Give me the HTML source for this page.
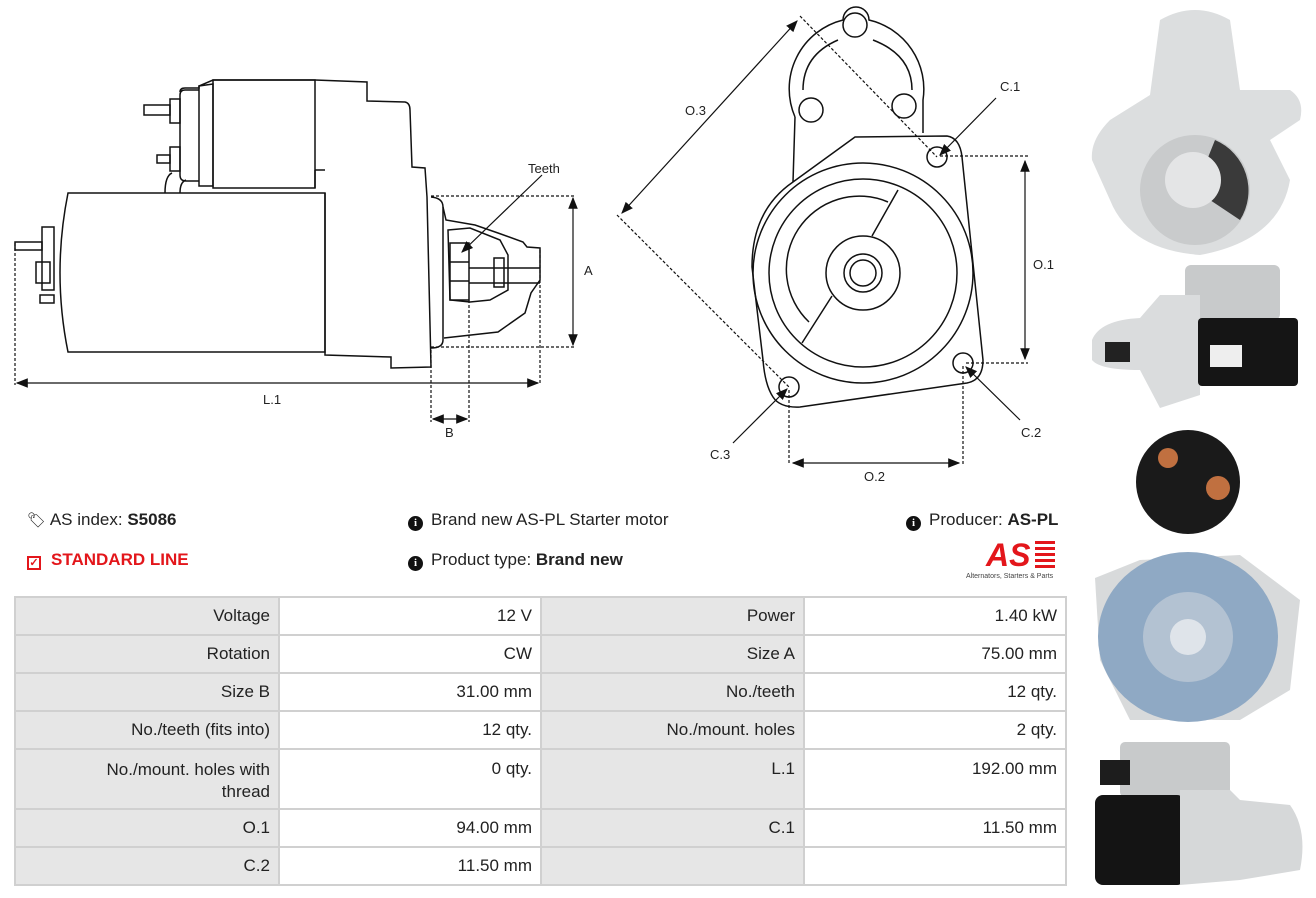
<!DOCTYPE html>
<html><head><meta charset="utf-8"><style>
*{margin:0;padding:0;box-sizing:border-box}
body{width:1316px;height:898px;background:#fff;position:relative;overflow:hidden;font-family:"Liberation Sans",sans-serif;color:#222}
.t{position:absolute;font-size:17px;white-space:nowrap}
.ic{display:inline-block;width:15px;height:15px;border-radius:50%;background:#111;color:#fff;font-size:11px;font-weight:bold;text-align:center;line-height:15px;vertical-align:-1px;margin-right:8px;font-family:"Liberation Serif",serif}
table{position:absolute;left:14px;top:596px;border-collapse:collapse;width:1053px}
td{border:2px solid #d0d0d0;font-size:17px;text-align:right;padding:0 8px;height:38px;color:#222}
td.l{background:#e6e6e6}
</style></head><body>
<svg width="1316" height="898" style="position:absolute;left:0;top:0" fill="none" stroke="#111" stroke-width="1.5">
<defs><marker id="a" markerWidth="10" markerHeight="8" refX="9" refY="4" orient="auto-start-reverse"><path d="M0,0 L10,4 L0,8 Z" fill="#111" stroke="none"/></marker></defs>
<!-- side view -->
<path d="M180,92 Q180,88 185,88 L199,88 L199,86 L213,80 L315,80 L367,82 L367,101 L405,102 Q410,103 410,110 L412,167 L425,168 L427,197 L431,367 L391,368 L391,357 L325,355 L325,193"/>
<rect x="213" y="80" width="102" height="108"/>
<path d="M199,86 L213,84 L213,186 L199,186 Z"/>
<path d="M199,90 L185,90 Q180,90 180,95 L180,175 Q180,181 186,181 L199,181"/>
<path d="M315,170 L325,170 M315,188 L315,170"/>
<rect x="144" y="105" width="26" height="10"/><rect x="170" y="99" width="10" height="24"/>
<rect x="157" y="155" width="13" height="8"/><rect x="170" y="147" width="10" height="24"/>
<path d="M165,193 Q165,176 172,173 M180,193 Q180,182 186,180"/>
<path d="M68,193 L325,193 L325,352 L68,352 Q52,273 68,193 Z"/>
<rect x="42" y="227" width="12" height="63"/><rect x="36" y="262" width="14" height="21"/>
<rect x="15" y="242" width="27" height="8"/><rect x="40" y="295" width="14" height="8"/>
<path d="M431,197 Q443,198 443,207 L443,340 Q443,348 431,348"/>
<path d="M443,207 L446,220 L475,225 L498,233 L523,242 L527,247 L540,248 L540,280 L531,293 L525,313 L498,332 L444,338"/>
<path d="M448,230 L470,228 L500,240 L508,255 L508,290 L490,300 L470,302 L450,300 Z"/>
<rect x="450" y="243" width="19" height="57"/><path d="M450,262 L469,262 M450,281 L469,281"/>
<path d="M469,268 L540,268 M469,283 L540,283"/>
<rect x="494" y="258" width="10" height="29"/>
<g stroke-dasharray="3,2" stroke-width="1.2">
<path d="M431,196 L576,196 M431,347 L576,347 M15,243 L15,385 M540,250 L540,385 M431,350 L431,422 M469,300 L469,422"/></g>
<g stroke-width="1.2">
<path d="M573,198 L573,345" marker-start="url(#a)" marker-end="url(#a)"/>
<path d="M17,383 L538,383" marker-start="url(#a)" marker-end="url(#a)"/>
<path d="M433,419 L467,419" marker-start="url(#a)" marker-end="url(#a)"/>
<path d="M542,175 L462,252" marker-end="url(#a)"/>
</g>
<!-- front view -->
<path d="M795,117 L793,182 M923,133 L923,100 A71,71 0 0 0 869,20 A12,12 0 0 0 843,20 A71,71 0 0 0 795,117"/>
<path d="M803,90 Q803,55 838,40 M912,90 Q912,55 873,40"/>
<circle cx="855" cy="25" r="12"/><circle cx="811" cy="110" r="12"/><circle cx="904" cy="106" r="12"/>
<path d="M855,137 L947,136 Q960,138 962,157 L983,360 Q983,380 967,383 L800,407 Q780,408 773,397 Q765,385 763,360 L752,267 Q752,210 793,182 Z"/>
<circle cx="863" cy="273" r="110"/><circle cx="863" cy="273" r="94"/>
<path d="M888,202 A73,73 0 0 0 809,322"/><path d="M898,190 L872,236 M832,296 L802,343"/>
<circle cx="863" cy="273" r="37"/><circle cx="863" cy="273" r="19"/><circle cx="863" cy="273" r="13"/>
<circle cx="937" cy="157" r="10"/><circle cx="963" cy="363" r="10"/><circle cx="789" cy="387" r="10"/>
<g stroke-dasharray="3,2" stroke-width="1.2">
<path d="M800,16 L937,157 M617,215 L789,387 M940,156 L1028,156 M966,363 L1028,363 M789,390 L789,465 M963,366 L963,465"/></g>
<g stroke-width="1.2">
<path d="M1025,161 L1025,359" marker-start="url(#a)" marker-end="url(#a)"/>
<path d="M793,463 L959,463" marker-start="url(#a)" marker-end="url(#a)"/>
<path d="M797,21 L622,213" marker-start="url(#a)" marker-end="url(#a)"/>
<path d="M996,98 L940,155" marker-end="url(#a)"/>
<path d="M1020,420 L966,367" marker-end="url(#a)"/>
<path d="M733,443 L787,389" marker-end="url(#a)"/>
</g>
<g fill="#222" stroke="none" font-family="Liberation Sans" font-size="13">
<text x="528" y="173">Teeth</text><text x="584" y="275">A</text><text x="263" y="404">L.1</text><text x="445" y="437">B</text>
<text x="685" y="115">O.3</text><text x="1000" y="91">C.1</text><text x="1033" y="269">O.1</text><text x="1021" y="437">C.2</text><text x="710" y="459">C.3</text><text x="864" y="481">O.2</text>
</g>
<!-- photos -->
<g stroke="none">
<path d="M1160,20 Q1195,0 1230,20 L1240,90 L1290,90 Q1305,100 1300,120 L1270,140 L1290,180 Q1280,240 1200,255 Q1130,250 1110,200 L1092,160 Q1090,140 1110,120 L1150,95 Z" fill="#dcdedf"/>
<circle cx="1195" cy="190" r="55" fill="#c9cbcc"/><path d="M1215,140 A55,55 0 0 1 1240,220 L1195,190 Z" fill="#3a3a3a"/>
<circle cx="1193" cy="180" r="28" fill="#e4e5e6"/>
<rect x="1185" y="265" width="95" height="55" rx="6" fill="#c8cacb"/>
<path d="M1092,340 Q1100,320 1140,318 L1160,295 L1200,295 L1200,395 L1160,408 L1140,370 Q1100,370 1092,360 Z" fill="#dadcdd"/>
<rect x="1198" y="318" width="100" height="68" rx="4" fill="#151515"/><rect x="1210" y="345" width="32" height="22" fill="#eee"/>
<rect x="1105" y="342" width="25" height="20" fill="#222"/>
<circle cx="1188" cy="482" r="52" fill="#1a1a1a"/><circle cx="1168" cy="458" r="10" fill="#c07040"/><circle cx="1218" cy="488" r="12" fill="#c07040"/>
<path d="M1095,578 L1140,560 L1240,555 L1300,600 L1290,690 L1240,720 L1130,720 L1100,660 Z" fill="#d8dadb"/>
<ellipse cx="1188" cy="637" rx="90" ry="85" fill="#8fa9c4"/><circle cx="1188" cy="637" r="45" fill="#b3c2d2"/><circle cx="1188" cy="637" r="18" fill="#dfe4ea"/>
<rect x="1120" y="742" width="110" height="55" rx="5" fill="#c8cacb"/><rect x="1100" y="760" width="30" height="25" fill="#1d1d1d"/>
<rect x="1095" y="795" width="90" height="90" rx="8" fill="#141414"/>
<path d="M1180,790 L1230,790 L1240,800 L1290,805 Q1308,830 1300,870 L1240,880 L1180,885 Z" fill="#d6d8d9"/>
</g>
</svg>
<div class="t" style="left:27px;top:510px"><span style="font-size:15px">&#x1F3F7;&#xFE0E;</span> AS index: <b>S5086</b></div>
<div class="t" style="left:27px;top:550px;color:#e3161b;font-weight:bold"><span style="display:inline-block;width:14px;height:14px;border:2px solid #e3161b;font-size:11px;line-height:10px;text-align:center;margin-right:10px;vertical-align:-1px">✓</span>STANDARD LINE</div>
<div class="t" style="left:408px;top:510px"><span class="ic">i</span>Brand new AS-PL Starter motor</div>
<div class="t" style="left:408px;top:550px"><span class="ic">i</span>Product type: <b>Brand new</b></div>
<div class="t" style="left:906px;top:510px"><span class="ic">i</span>Producer: <b>AS-PL</b></div>
<div style="position:absolute;left:986px;top:538px;color:#e3161b;font-weight:bold;font-style:italic;font-size:32px;line-height:34px;font-family:'Liberation Sans',sans-serif">AS</div>
<div style="position:absolute;left:1035px;top:541px;width:20px;height:28px;background:repeating-linear-gradient(#e3161b 0 3px,#fff 3px 6px)"></div>
<div style="position:absolute;left:966px;top:573px;font-size:7px;color:#444;white-space:nowrap">Alternators, Starters &amp; Parts</div>
<table>
<tr><td class="l" style="width:264px">Voltage</td><td style="width:262px">12 V</td><td class="l" style="width:263px">Power</td><td>1.40 kW</td></tr>
<tr><td class="l">Rotation</td><td>CW</td><td class="l">Size A</td><td>75.00 mm</td></tr>
<tr><td class="l">Size B</td><td>31.00 mm</td><td class="l">No./teeth</td><td>12 qty.</td></tr>
<tr><td class="l">No./teeth (fits into)</td><td>12 qty.</td><td class="l">No./mount. holes</td><td>2 qty.</td></tr>
<tr><td class="l" style="height:60px;vertical-align:top;padding-top:9px;line-height:22px">No./mount. holes with<br>thread</td><td style="vertical-align:top;padding-top:9px">0 qty.</td><td class="l" style="vertical-align:top;padding-top:9px">L.1</td><td style="vertical-align:top;padding-top:9px">192.00 mm</td></tr>
<tr><td class="l">O.1</td><td>94.00 mm</td><td class="l">C.1</td><td>11.50 mm</td></tr>
<tr><td class="l">C.2</td><td>11.50 mm</td><td class="l"></td><td></td></tr>
</table>
</body></html>
